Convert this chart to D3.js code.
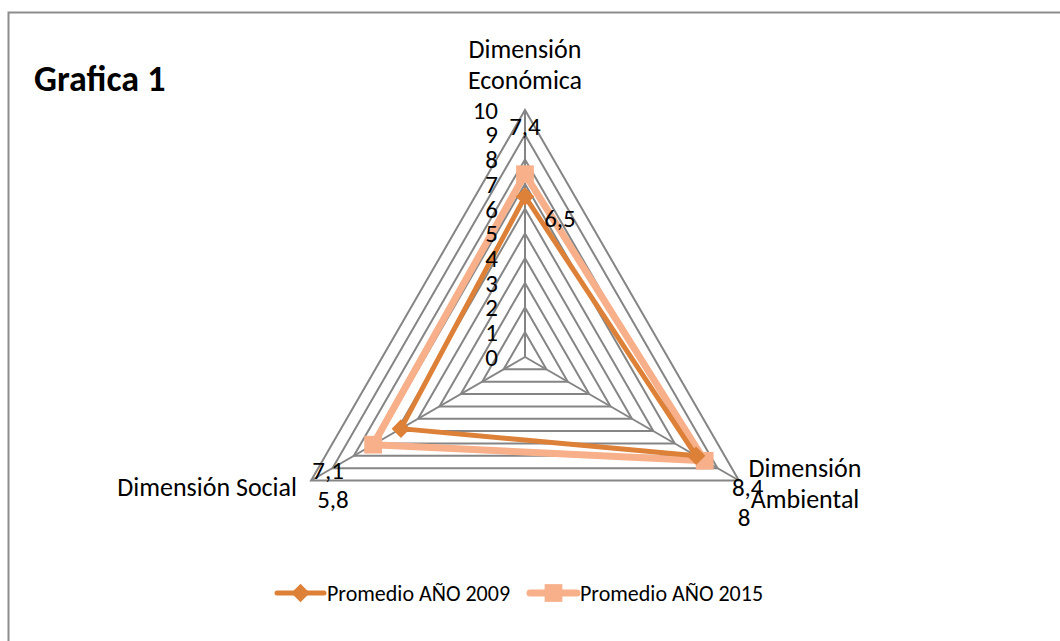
<!DOCTYPE html>
<html>
<head>
<meta charset="utf-8">
<script src="https://cdn.jsdelivr.net/npm/d3@7"></script>
<style>
  html, body { margin: 0; padding: 0; background: #fff; }
  svg { display: block; font-family: Carlito, Calibri, Lato, "Liberation Sans", sans-serif; }
</style>
</head>
<body>
<svg id="chart" width="1060" height="641"></svg>
<script>
// ---- data ----
const title = "Grafica 1";
const axes = [["Dimensión", "Económica"], ["Dimensión Social"], ["Dimensión", "Ambiental"]];
const axisOrder = ["Económica", "Social", "Ambiental"];
const tickValues = [0, 1, 2, 3, 4, 5, 6, 7, 8, 9, 10];
const seriesNames = ["Promedio AÑO 2009", "Promedio AÑO 2015"];
const values2009 = [6.5, 5.8, 8];
const values2015 = [7.4, 7.1, 8.4];
const valueLabels2009 = ["6,5", "5,8", "8"];
const valueLabels2015 = ["7,4", "7,1", "8,4"];

// ---- layout / style ----
const W = 1060, H = 641;
const cx = 525, cy = 357, R = 247;
const colors = ["#DD8038", "#F7B08A"];
const gridColor = "#858585";
// data-label offsets from their points (Excel placement)
const labelOffsets = [
  [[35, 22], [-68, 71], [48, 61]],
  [[0, -48], [-45, 26], [43, 27]]
];

const svg = d3.select("#chart");
const r = d3.scaleLinear().domain([0, 10]).range([0, R]);
// screen angles: Económica top, Social bottom-left, Ambiental bottom-right
const angles = [-Math.PI / 2, Math.PI * 5 / 6, Math.PI / 6];
const pt = (i, v) => [cx + r(v) * Math.cos(angles[i]), cy + r(v) * Math.sin(angles[i])];

// chart border (only top and left visible)
svg.append("path")
  .attr("d", `M8.5,${H + 5} L8.5,12.5 L${W + 5},12.5`)
  .attr("fill", "none").attr("stroke", "#8c8c8c").attr("stroke-width", 2);

// title
svg.append("text").attr("x", 34).attr("y", 91)
  .attr("font-size", 36).attr("font-weight", "bold").attr("fill", "#000")
  .text(title);

// grid triangles
const g = svg.append("g");
tickValues.filter(t => t > 0).forEach(t => {
  g.append("path")
    .attr("d", d3.line()([0, 1, 2].map(i => pt(i, t))) + "Z")
    .attr("fill", "none").attr("stroke", gridColor).attr("stroke-width", 2);
});
// spokes
[0, 1, 2].forEach(i => {
  const p = pt(i, 10);
  g.append("line").attr("x1", cx).attr("y1", cy).attr("x2", p[0]).attr("y2", p[1])
    .attr("stroke", gridColor).attr("stroke-width", 2);
});

// series
const series = [values2009, values2015];
const labels = [valueLabels2009, valueLabels2015];
const lineGen = d3.line();
[1, 0].forEach(s => {
  const pts = series[s].map((v, i) => pt(i, v));
  svg.append("path").attr("d", lineGen(pts) + "Z")
    .attr("fill", "none").attr("stroke", colors[s])
    .attr("stroke-width", s === 0 ? 5 : 7).attr("stroke-linejoin", "round");
});
[1, 0].forEach(s => {
  const pts = series[s].map((v, i) => pt(i, v));
  svg.append("g").selectAll("path").data(pts).join("path")
    .attr("transform", d => `translate(${d[0]},${d[1]})`)
    .attr("d", s === 0 ? d3.symbol(d3.symbolDiamond2, 220)() : d3.symbol(d3.symbolSquare2, 400)())
    .attr("fill", colors[s]).attr("stroke", "none");
});

// tick labels (drawn on top of the lines)
svg.append("g").selectAll("text").data(tickValues).join("text")
  .attr("x", cx - 27).attr("y", d => cy - r(d))
  .attr("dy", "0.35em").attr("text-anchor", "end")
  .attr("font-size", 25).attr("fill", "#000").text(d => d);

// data labels
[0, 1].forEach(s => {
  const pts = series[s].map((v, i) => pt(i, v));
  svg.append("g").selectAll("text").data(pts).join("text")
    .attr("x", (d, i) => d[0] + labelOffsets[s][i][0])
    .attr("y", (d, i) => d[1] + labelOffsets[s][i][1])
    .attr("dy", "0.35em").attr("text-anchor", "middle")
    .attr("font-size", 25).attr("fill", "#000")
    .text((d, i) => labels[s][i]);
});

// axis labels
const axG = svg.append("g").attr("font-size", 26).attr("fill", "#000");
const econ = axG.append("text").attr("text-anchor", "middle");
axes[0].forEach((l, k) => econ.append("tspan").attr("x", cx).attr("y", 58 + k * 31).text(l));
axG.append("text").attr("x", 297).attr("y", 496).attr("text-anchor", "end").text(axes[1][0]);
const amb = axG.append("text").attr("text-anchor", "middle");
axes[2].forEach((l, k) => amb.append("tspan").attr("x", 805).attr("y", 477 + k 
  * 31).text(l));

// legend
const legend = svg.append("g");
const legX = [277, 530];
seriesNames.forEach((n, s) => {
  const lg = legend.append("g").attr("transform", `translate(${legX[s]},593)`);
  lg.append("line").attr("x1", 0).attr("x2", 47).attr("y1", 0).attr("y2", 0)
    .attr("stroke", colors[s]).attr("stroke-width", s === 0 ? 5 : 7).attr("stroke-linecap", "round");
  lg.append("path").attr("transform", "translate(23.5,0)")
    .attr("d", s === 0 ? d3.symbol(d3.symbolDiamond2, 220)() : d3.symbol(d3.symbolSquare2, 400)())
    .attr("fill", colors[s]);
  lg.append("text").attr("x", 50).attr("y", 0).attr("dy", "0.35em")
    .attr("font-size", 22).attr("fill", "#000").text(n);
});
</script>
</body>
</html>
